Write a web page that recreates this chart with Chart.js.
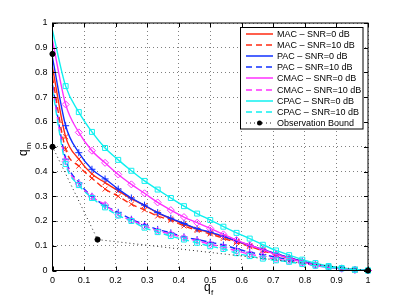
<!DOCTYPE html>
<html>
<head>
<meta charset="utf-8">
<script src="https://cdn.jsdelivr.net/npm/chart.js@4/dist/chart.umd.min.js"></script>
<style>
  html, body { margin: 0; padding: 0; background: #fff; }
  #wrap { width: 407px; height: 306px; }
</style>
</head>
<body>
<div id="wrap"><canvas id="qChart" width="407" height="306"></canvas></div>
<script>
// q_f samples (every 1/24)
const qf = [0, 1/24, 2/24, 3/24, 4/24, 5/24, 6/24, 7/24, 8/24, 9/24, 10/24, 11/24, 12/24,
  13/24, 14/24, 15/24, 16/24, 17/24, 18/24, 19/24, 20/24, 21/24, 22/24, 23/24, 1];

// q_m
const macSnr0   = [0.82, 0.54, 0.45, 0.39, 0.355, 0.322, 0.29, 0.262, 0.233, 0.209, 0.188, 0.167, 0.153, 0.136, 0.118, 0.1, 0.083, 0.067, 0.051, 0.037, 0.025, 0.015, 0.008, 0.003, 0];
const macSnr10  = [0.78, 0.49, 0.422, 0.373, 0.329, 0.3, 0.268, 0.245, 0.22, 0.203, 0.18, 0.162, 0.148, 0.13, 0.113, 0.097, 0.08, 0.064, 0.05, 0.036, 0.024, 0.015, 0.008, 0.003, 0];
const pacSnr0   = [0.86, 0.585, 0.476, 0.409, 0.37, 0.329, 0.293, 0.264, 0.234, 0.211, 0.19, 0.169, 0.155, 0.138, 0.12, 0.102, 0.085, 0.068, 0.052, 0.038, 0.025, 0.016, 0.009, 0.004, 0];
const pacSnr10  = [0.75, 0.45, 0.355, 0.3, 0.262, 0.235, 0.207, 0.186, 0.166, 0.152, 0.136, 0.125, 0.114, 0.103, 0.088, 0.074, 0.064, 0.054, 0.043, 0.032, 0.022, 0.014, 0.008, 0.003, 0];
const cmacSnr0  = [0.93, 0.671, 0.558, 0.484, 0.435, 0.388, 0.348, 0.312, 0.275, 0.244, 0.216, 0.193, 0.17, 0.146, 0.123, 0.102, 0.084, 0.065, 0.05, 0.034, 0.023, 0.014, 0.008, 0.003, 0];
const cmacSnr10 = [0.74, 0.44, 0.35, 0.298, 0.265, 0.225, 0.203, 0.18, 0.16, 0.147, 0.132, 0.12, 0.106, 0.094, 0.079, 0.066, 0.056, 0.046, 0.038, 0.028, 0.02, 0.012, 0.007, 0.003, 0];
const cpacSnr0  = [0.97, 0.745, 0.64, 0.56, 0.495, 0.447, 0.403, 0.362, 0.327, 0.293, 0.26, 0.23, 0.204, 0.177, 0.152, 0.129, 0.104, 0.081, 0.062, 0.044, 0.03, 0.018, 0.01, 0.004, 0];
const cpacSnr10 = [0.73, 0.43, 0.345, 0.293, 0.255, 0.222, 0.2, 0.173, 0.155, 0.139, 0.125, 0.112, 0.098, 0.087, 0.07, 0.058, 0.048, 0.041, 0.035, 0.026, 0.019, 0.013, 0.008, 0.003, 0];

// observation bound corners
const obsX = [0, 0, 1/7, 1];
const obsY = [0.875, 0.5, 0.125, 0];

const labels = ['MAC \u2013 SNR=0 dB', 'MAC \u2013 SNR=10 dB', 'PAC \u2013 SNR=0 dB', 'PAC \u2013 SNR=10 dB',
  'CMAC \u2013 SNR=0 dB', 'CMAC \u2013 SNR=10 dB', 'CPAC \u2013 SNR=0 dB', 'CPAC \u2013 SNR=10 dB', 'Observation Bound'];
const ticks = [0, 0.1, 0.2, 0.3, 0.4, 0.5, 0.6, 0.7, 0.8, 0.9, 1];

const FONT = "'Liberation Sans', Arial, Helvetica, sans-serif";
const RED = '#ff2a10', BLUE = '#1030ff', MAG = '#ff30ff', CYAN = '#10f0f0';

function pts(ys) {
  return qf.map((x, i) => ({ x: x, y: ys[i] }));
}

function curve(idx, ys, color, dashed, marker) {
  return {
    label: labels[idx],
    order: 10 - idx,
    data: pts(ys),
    borderColor: color,
    borderWidth: 1.4,
    borderDash: dashed ? [6, 4] : [],
    cubicInterpolationMode: 'monotone',
    pointStyle: marker,
    pointRadius: ctx => ctx.dataIndex === 0 ? 0 : 3.5,
    pointBorderColor: color,
    pointBackgroundColor: 'rgba(0,0,0,0)',
    pointBorderWidth: 1,
    fill: false
  };
}

const datasets = [
  curve(0, macSnr0, RED, false, 'crossRot'),
  curve(1, macSnr10, RED, true, 'crossRot'),
  curve(2, pacSnr0, BLUE, false, 'cross'),
  curve(3, pacSnr10, BLUE, true, 'cross'),
  curve(4, cmacSnr0, MAG, false, 'rectRot'),
  curve(5, cmacSnr10, MAG, true, 'rectRot'),
  curve(6, cpacSnr0, CYAN, false, 'rect'),
  curve(7, cpacSnr10, CYAN, true, 'rect'),
  {
    label: labels[8],
    order: 0,
    data: obsX.map((x, i) => ({ x: x, y: obsY[i] })),
    borderColor: '#222',
    borderWidth: 1,
    borderDash: [1, 3],
    tension: 0,
    pointStyle: 'circle',
    pointRadius: 2.6,
    pointBackgroundColor: '#000',
    pointBorderColor: '#000',
    obsMarker: true
  }
];

// box, inward ticks, axis titles, legend
const matlabLook = {
  id: 'matlabLook',
  afterDraw(chart) {
    const c = chart.ctx, a = chart.chartArea;
    const xs = chart.scales.x, ys = chart.scales.y;
    c.save();
    c.strokeStyle = '#000';
    c.lineWidth = 1;
    c.strokeRect(a.left, a.top, a.right - a.left, a.bottom - a.top);
    c.beginPath();
    ticks.forEach(t => {
      const px = Math.round(xs.getPixelForValue(t)) + 0.5;
      c.moveTo(px, a.bottom); c.lineTo(px, a.bottom - 4);
      c.moveTo(px, a.top); c.lineTo(px, a.top + 4);
      const py = Math.round(ys.getPixelForValue(t)) + 0.5;
      c.moveTo(a.left, py); c.lineTo(a.left + 4, py);
      c.moveTo(a.right, py); c.lineTo(a.right - 4, py);
    });
    c.stroke();

    // axis titles with subscripts
    c.fillStyle = '#000';
    c.textBaseline = 'alphabetic';
    c.textAlign = 'left';
    c.font = '12px ' + FONT;
    c.fillText('q', 204, 291);
    c.font = '8px ' + FONT;
    c.fillText('f', 211, 295);

    c.translate(27, 152);
    c.rotate(-Math.PI / 2);
    c.font = '12px ' + FONT;
    c.fillText('q', -4, 0);
    c.font = '8px ' + FONT;
    c.fillText('m', 3, 4);
    c.restore();

    // legend
    const L = 240.5, T = 27.5, W = 122.5, H = 101.5;
    c.save();
    c.fillStyle = '#fff';
    c.fillRect(L, T, W, H);
    c.strokeStyle = '#000';
    c.lineWidth = 1;
    c.strokeRect(L, T, W, H);
    c.font = '9px ' + FONT;
    c.textBaseline = 'middle';
    chart.data.datasets.forEach((ds, i) => {
      const y = Math.round(T + 6.5 + i * 11.1);
      c.strokeStyle = ds.borderColor;
      c.lineWidth = ds.obsMarker ? 1 : 1.5;
      c.setLineDash(ds.obsMarker ? [1, 3] : ds.borderDash);
      c.beginPath();
      c.moveTo(246, y);
      c.lineTo(273, y);
      c.stroke();
      c.setLineDash([]);
      if (ds.obsMarker) {
        c.fillStyle = '#000';
        c.beginPath();
        c.arc(259.5, y, 2.5, 0, Math.PI * 2);
        c.fill();
      }
      c.fillStyle = '#000';
      c.fillText(ds.label, 277, y + 0.5);
    });
    c.restore();
  }
};

function axisOpts(fitKey, fitVal) {
  return {
    type: 'linear',
    min: 0,
    max: 1,
    afterBuildTicks: scale => { scale.ticks = ticks.map(v => ({ value: v })); },
    afterFit: scale => { scale[fitKey] = fitVal; },
    ticks: {
      color: '#000',
      font: { family: FONT, size: 9 },
      padding: 5,
      callback: v => String(Math.round(v * 10) / 10)
    },
    grid: {
      color: '#808080',
      lineWidth: 1,
      drawTicks: false,
      borderDash: [1, 3],
      tickBorderDash: [1, 3]
    },
    border: { display: false, dash: [1, 3] }
  };
}

new Chart('qChart', {
  type: 'line',
  data: { datasets: datasets },
  options: {
    responsive: false,
    animation: false,
    clip: 6,
    layout: { padding: { top: 23, right: 39, bottom: 0, left: 0 } },
    plugins: { legend: { display: false }, tooltip: { enabled: false } },
    scales: { x: axisOpts('height', 35.5), y: axisOpts('width', 52.5) }
  },
  plugins: [matlabLook]
});
</script>
</body>
</html>
